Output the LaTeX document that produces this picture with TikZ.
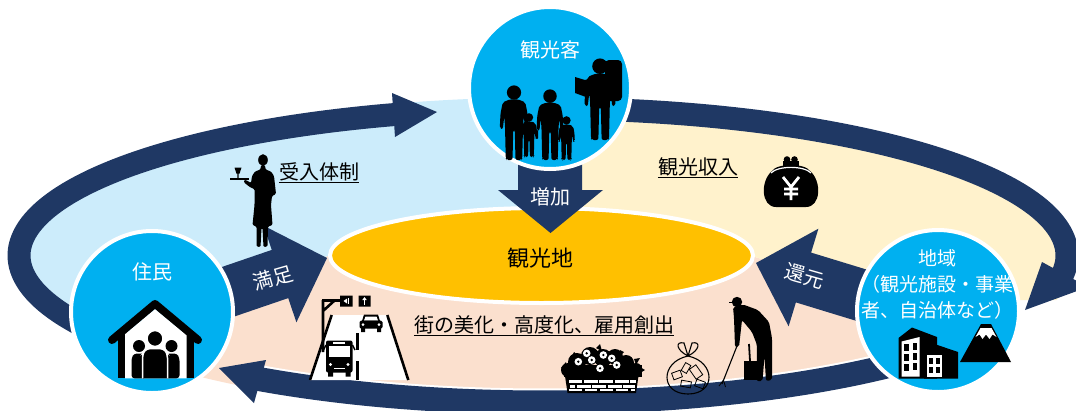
\documentclass[tikz,border=0pt]{standalone}
\usepackage{fontspec}
\setmainfont{Noto Sans CJK JP}
\definecolor{ringnavy}{RGB}{31,56,100}
\definecolor{hubblue}{RGB}{0,176,240}
\definecolor{paleblue}{RGB}{204,236,251}
\definecolor{palecream}{RGB}{255,242,204}
\definecolor{palepeach}{RGB}{251,224,206}
\definecolor{sitegold}{RGB}{255,192,0}

% generic standing figure: feet centre (#1,#2), height 100*#3
\newcommand{\walker}[3]{%
  \begin{scope}[shift={(#1,#2)},scale=#3]
    \fill (0,-90) circle (9.5);
    \fill[rounded corners=2pt] (-5,-81) -- (5,-81) -- (15,-77) -- (18,-62) -- (19,-42) -- (15,-41) -- (13,-58) -- (12,-45) -- (11,-2) -- (10,0) -- (2,0) -- (1,-40) -- (-1,-40) -- (-2,0) -- (-10,0) -- (-11,-2) -- (-12,-45) -- (-13,-58) -- (-15,-41) -- (-19,-42) -- (-18,-62) -- (-15,-77) -- cycle;
  \end{scope}}

\begin{document}
\begin{tikzpicture}[x=1pt,y=-1pt,
  band/.style={draw=ringnavy,line width=23pt},
  hub/.style={circle,fill=hubblue,draw=white,line width=4pt,minimum size=162pt,inner sep=0pt},
  wtext/.style={text=white,font=\fontsize{20}{24}\selectfont,inner sep=0pt},
  ktext/.style={text=black,font=\fontsize{20}{24}\selectfont,inner sep=0pt},
  uline/.style={line width=1.3pt},
]
\useasboundingbox (0,0) rectangle (1076,410);
\fill[white] (0,0) rectangle (1076,410);

% tinted sectors of the disc
\begin{scope}
  \clip (543,255.5) ellipse [x radius=535, y radius=158];
  \fill[palepeach] (152,312) -- (328,256) -- (755,257) -- (938,311) -- (938,420) -- (152,420) -- cycle;
  \fill[paleblue] (-10,-10) -- (550,-10) -- (550,256) -- (328,256) -- (152,312) -- (-10,312) -- cycle;
  \fill[palecream] (550,-10) -- (1100,-10) -- (1100,300) -- (1000,300) -- (938,311) -- (755,257) -- (550,256) -- cycle;
\end{scope}

% circulating ring of three curved arrows
\draw[white,line width=28pt] plot[domain=35:122.7,samples=80] ({543+524*cos(\x)},{255.5+147*sin(\x)});
\draw[band,line width=24pt] plot[domain=35:123.2,samples=80] ({543+524*cos(\x)},{255.5+147*sin(\x)});
\draw[band] plot[domain=140:254.2,samples=80] ({543+524*cos(\x)},{255.5+147*sin(\x)});
\draw[band] plot[domain=272:368,samples=80] ({543+524*cos(\x)},{255.5+147*sin(\x)});
\fill[ringnavy] (392,93) -- (437,112) -- (395,137) -- cycle;
\fill[ringnavy] (1042,262) -- (1088,287) -- (1025,310) -- cycle;
\fill[ringnavy] (266,360) -- (219,368) -- (254,403) -- cycle;

% tourist site
\draw[white,line width=4pt,fill=sitegold] (541.5,255.5) ellipse [x radius=211.5, y radius=47.5];
\node[ktext,font=\fontsize{22}{26}\selectfont] (site) at (540,258) {観光地};

% block arrows
\fill[ringnavy] (518,150) -- (582,150) -- (582,190) -- (603,190) -- (550.5,233) -- (498,190) -- (518,190) -- cycle;
\fill[ringnavy] (157.8,288.9) -- (271.8,249.9) -- (263.6,225.7) -- (327,258) -- (296.4,322.3) -- (288.2,298.1) -- (174.2,337.1) -- cycle;
\fill[ringnavy] (935.4,290.6) -- (811.1,252.6) -- (818.4,228.7) -- (756,263) -- (788.6,326.3) -- (795.9,302.4) -- (920.2,340.4) -- cycle;

% actor circles
\node[hub] (guest) at (550,88) {};
\node[hub] (home) at (152,312) {};
\node[hub] (local) at (938,311) {};

% labels
\node[wtext] (guestlbl) at (550,50) {観光客};
\node[wtext] (homelbl) at (152,272) {住民};
\node[wtext,align=center,font=\fontsize{19}{26}\selectfont] (locallbl) at (937,284) {地域\\（観光施設・事業\\者、自治体など）};
\node[wtext] (more) at (550,197) {増加};
\node[wtext,rotate=16] (content) at (273,278) {満足};
\node[wtext,rotate=-16] (payback) at (805,276) {還元};
\node[ktext] (welcome) at (319,172) {受入体制};
\draw[uline] ([yshift=-1pt]welcome.south west) -- ([yshift=-1pt]welcome.south east);
\node[ktext] (income) at (698,167) {観光収入};
\draw[uline] ([yshift=-1pt]income.south west) -- ([yshift=-1pt]income.south east);
\node[ktext] (town) at (544,325) {街の美化・高度化、雇用創出};
\draw[uline] ([yshift=-1pt]town.south west) -- ([yshift=-1pt]town.south east);

% hostess with tray
\fill (263,160) ellipse [x radius=4.8, y radius=5.8];
\fill[rounded corners=1.2pt] (261,165) -- (265,165) -- (265.5,169.5) -- (271,171.5) -- (274,176) -- (276,194) -- (272,196) -- (271,205) -- (272.5,225) -- (268,226.5) -- (267.5,246.5) -- (263.5,247) -- (262.5,228) -- (261.5,228) -- (260.5,247) -- (256.5,246.5) -- (256.5,226.5) -- (252.5,225) -- (254.5,205) -- (254.5,189) -- (250.5,187.5) -- (244,182.5) -- (244,180) -- (246,180) -- (251,183) -- (252,176) -- (255,171.5) -- (260.5,169.5) -- cycle;
\fill (230,178.4) rectangle (249,180.2);
\fill (234.5,167.5) -- (241.5,167.5) -- (239.6,173.5) -- (238.6,173.5) -- (238.6,178.4) -- (237.4,178.4) -- (237.4,173.5) -- (236.4,173.5) -- cycle;

% family and backpacker
\walker{514}{160}{0.75}
\walker{529}{157}{0.44}
\walker{550}{160}{0.71}
\walker{566.5}{160}{0.44}
\draw[line width=2.2pt,line cap=round] (527,128) -- (523,134) (537,138) -- (537,131) (562,131) -- (559,139);
\fill[rounded corners=4pt] (605,60) rectangle (622,101);
\walker{600}{140}{0.82}
\fill (575,77) -- (585,80) -- (597,76) -- (597,94) -- (586,97) -- (575,93) -- cycle;

% purse with yen sign
\fill (772,171) .. controls (777,163) and (805,163) .. (810,171) .. controls (822,181) and (821,207) .. (806,207) -- (776,207) .. controls (761,207) and (760,181) .. (772,171) -- cycle;
\fill (787,159.5) circle (3.3) (794.5,159.5) circle (3.3);
\fill (783,161) rectangle (799,165.5);
\draw[white,line width=1.2pt] (771,173) .. controls (778,165.5) and (804,165.5) .. (811,173);
\draw[white,line width=2.8pt] (783,177) -- (791,187) -- (799,177) (791,187) -- (791,200) (784,189) -- (798,189) (784,194) -- (798,194);

% house with residents
\draw[line width=8pt,line cap=round,line join=round] (112,340) -- (155,304) -- (198,340);
\fill (118.3,332) rectangle (194,378.3);
\fill[white] (125,334.3) -- (155,309.2) -- (186.7,335.5) -- (186.7,378.3) -- (125,378.3) -- cycle;
\fill (139,346) circle (6);
\fill[rounded corners=3pt] (131.5,378.3) -- (131.5,358) -- (134,353.5) -- (144,353.5) -- (146.5,358) -- (146.5,378.3) -- cycle;
\fill (171.5,346) circle (6);
\fill[rounded corners=3pt] (164.5,378.3) -- (164.5,358) -- (167,353.5) -- (177,353.5) -- (179.5,358) -- (179.5,378.3) -- cycle;
\draw[white,line width=1.5pt,fill=black] (155,338.5) circle (8);
\draw[white,line width=1.5pt,fill=black,rounded corners=4pt] (142.5,378.3) -- (142.5,354) -- (146,348.5) -- (164,348.5) -- (167.5,354) -- (167.5,378.3);

% street with bus and car
\fill[white] (331.7,315) -- (387.3,315) -- (408.3,380) -- (310,380) -- cycle;
\draw[line width=2.6pt] (331.7,315) -- (310,380) (387.3,315) -- (408.3,380);
\draw[line width=2.6pt] (357.5,333) -- (357.5,350) (357.5,361) -- (357.5,380);
\draw[line width=2.6pt] (323,300) -- (323,352) (322,300.5) -- (342,300.5) (323,311) -- (334,301);
\fill (340,295.5) rectangle (352.5,306.5) (358.5,295.5) rectangle (370.5,306.5);
\fill[white] (343.5,301) -- (347,298.5) -- (347,303.5) -- cycle;
\draw[white,line width=1pt] (348.8,298) -- (348.8,304);
\draw[white,line width=1.2pt] (364.5,304.5) -- (364.5,299);
\fill[white] (362.3,300) -- (364.5,297) -- (366.7,300) -- cycle;
\fill (364,314.5) -- (378,314.5) -- (380,321) -- (362,321) -- cycle;
\fill[white] (365.5,316.5) -- (376.5,316.5) -- (378,320.5) -- (364,320.5) -- cycle;
\fill[rounded corners=1.5pt] (359.5,320.5) rectangle (382.5,328.5);
\fill (361,327) rectangle (365,332) (377,327) rectangle (381,332);
\fill[white] (363,324.5) circle (1.5) (379,324.5) circle (1.5);
\fill[rounded corners=2pt] (326,340.5) rectangle (352.5,372.5);
\fill (328,371) rectangle (333,376.5) (345.5,371) rectangle (350.5,376.5);
\fill[white] (328.5,346) rectangle (350,357);
\fill[white] (333,342) rectangle (345,343.6);
\fill[white] (330.5,364.5) circle (1.6) (348,364.5) circle (1.6);
\draw[white,line width=0.8pt] (334,368) -- (344.5,368);
\draw[line width=1.4pt] (326,345) -- (323.5,350) (352.5,345) -- (355,350);

% flower planter
\fill (564,365) rectangle (642,377);
\fill (568,370) circle (7) (577,362) circle (9) (590,356) circle (9) (603,358) circle (9) (615,357) circle (8) (626,363) circle (8) (636,369) circle (6);
\fill (561,368) -- (566,362) -- (566,372) -- cycle (571,358) -- (574,352) -- (578,356) -- cycle (596,348) -- (600,344) -- (602,351) -- cycle (620,350) -- (624,352) -- (620,356) -- cycle (634,359) -- (640,358) -- (636,365) -- cycle (640,367) -- (645,370) -- (640,373) -- cycle;
\foreach \fx/\fy in {578.3/361.7, 586.7/353.3, 591.7/360, 600/368.3, 603.3/355, 611.7/358.3, 616.7/365}{
  \fill[white] (\fx,\fy) circle (3.8);
  \fill (\fx,\fy) circle (1.3);
}
\fill (565,376) -- (638.5,376) -- (636,393) -- (567.5,393) -- cycle;
\foreach \bx/\bw in {568.5/13.5, 583.8/13.7, 599.3/13.7, 614.8/13.7, 630.3/5.2}{
  \fill[white] (\bx,380) rectangle ++(\bw,3.4);
  \fill[white] (\bx+0.8,389) rectangle ++(\bw-1,2.4);
}
\foreach \bx/\bw in {569.5/5.5, 576.8/13.7, 592.3/13.7, 607.8/13.7, 623.3/11.5}{
  \fill[white] (\bx,384.6) rectangle ++(\bw,3.2);
}

% refuse sack
\draw[line width=1.1pt] (688,356) .. controls (660,362) and (660,394) .. (688,394) .. controls (716,394) and (716,362) .. (688,356);
\draw[line width=1.1pt] (688,356) .. controls (676,350) and (675,341) .. (684,343) -- (688,356) .. controls (700,350) and (701,341) .. (692,343) -- (688,356);
\begin{scope}[fill=white,line width=0.8pt]
  \draw[rotate around={20:(677,375)}] (672.5,371.5) rectangle (681.5,378.5);
  \draw[rotate around={-10:(686,384)}] (681,381) rectangle (691,387);
  \draw[rotate around={35:(696,372)}] (692,366) rectangle (700,378);
  \draw[rotate around={-20:(700,384)}] (695.5,380.5) rectangle (704.5,387.5);
  \draw[rotate around={-30:(686,368)}] (683,363.5) rectangle (689,372.5);
\end{scope}

% street cleaner with tongs and dustpan
\fill (737,302) circle (5.2);
\fill (728.5,301.5) rectangle (734,303.2);
\fill[rounded corners=2pt] (733,307) -- (743,304.5) -- (758,310) -- (769,322) -- (772,338) -- (772,380) -- (766,381) -- (764.5,356) -- (762.5,381) -- (756.5,381) -- (757,345) -- (752,332) -- (742,320) -- (739,347) -- (735,347) -- (734,318) -- cycle;
\fill (743.5,361) rectangle (757,380);
\draw[line width=1.8pt] (750,361) -- (749,344);
\draw[line width=1.1pt] (737,346) -- (722,384);
\draw[line width=0.8pt] (723.5,380) -- (719,386) (723.5,380) -- (725.5,387);

% buildings and mountain
\fill (898.5,338) -- (912,327.5) -- (937,337) -- (937,378.5) -- (898.5,378.5) -- cycle;
\fill[white] (901.5,341.5) -- (919.5,337) -- (919.5,376.5) -- (901.5,376.5) -- cycle;
\foreach \wy in {344,354,364}{
  \fill (904,\wy) rectangle ++(4.5,6.5);
  \fill (912.5,\wy-1) rectangle ++(4.5,6.5);
}
\fill (924,352) -- (933,343.5) -- (958,352) -- (958,378.5) -- (924,378.5) -- cycle;
\fill[white] (926.5,355) rectangle (941.5,376.5);
\foreach \wy in {358,367}{
  \fill (929,\wy) rectangle ++(4,6);
  \fill (936,\wy) rectangle ++(4,6);
}
\fill (960,362) -- (981,324) -- (991,324) -- (1011,362) -- cycle;
\fill[white] (980.5,328) -- (991.5,328) -- (996.5,337) -- (992.5,334.5) -- (989.5,339) -- (986,334.5) -- (982.5,339) -- (979.5,334.5) -- (975.5,337) -- cycle;
\end{tikzpicture}
\end{document}
